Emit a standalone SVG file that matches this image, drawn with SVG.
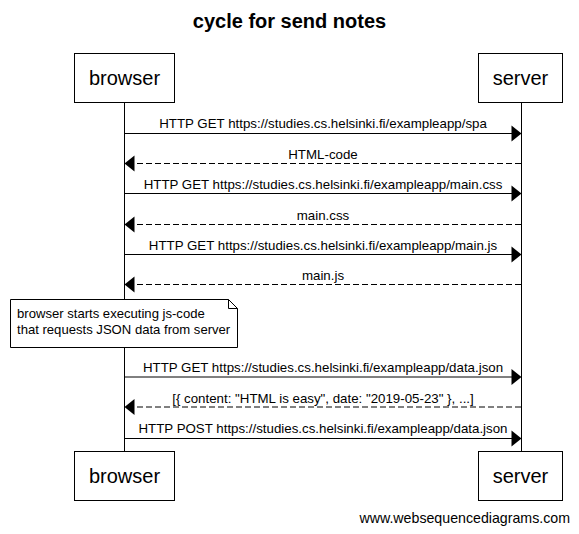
<svg xmlns="http://www.w3.org/2000/svg" width="579" height="534" viewBox="0 0 579 534">
<style>
text{font-family:"Liberation Sans",Arial,sans-serif;fill:#000}
.box{fill:#fff;stroke:#000;stroke-width:1}
.pt{font-size:20px;text-anchor:middle}
.lbl{font-size:13.3px;text-anchor:middle}
.life{stroke:#000;stroke-width:1}
.msg{stroke:#000;stroke-width:1;fill:none}
.dash{stroke-dasharray:6,3}
.head{fill:#000}
</style>
<rect width="579" height="534" fill="#fff"/>
<text x="289.5" y="28" font-size="20" font-weight="bold" text-anchor="middle">cycle for send notes</text>
<g id="lifelines">
<line class="life" x1="124.5" y1="102" x2="124.5" y2="451"/>
<line class="life" x1="521.5" y1="102" x2="521.5" y2="451"/>
</g>
<g id="browser-top"><rect class="box" x="74.5" y="53.5" width="100" height="49"/><text class="pt" x="124.5" y="85">browser</text></g>
<g id="server-top"><rect class="box" x="478.5" y="53.5" width="84" height="49"/><text class="pt" x="520.5" y="85">server</text></g>
<g id="browser-bottom"><rect class="box" x="74.5" y="451.5" width="100" height="49"/><text class="pt" x="124.5" y="483">browser</text></g>
<g id="server-bottom"><rect class="box" x="478.5" y="451.5" width="84" height="49"/><text class="pt" x="520.5" y="483">server</text></g>
<g id="note">
<path class="box" d="M10.5 299.5 H228.5 L237.5 308.5 V347.5 H10.5 Z"/>
<path class="msg" d="M228.5 299.5 V308.5 H237.5"/>
<text x="17" y="318" font-size="13.1">browser starts executing js-code</text>
<text x="17" y="334" font-size="13.1">that requests JSON data from server</text>
</g>
<g id="connectors">
<line class="msg" x1="124.5" y1="133.5" x2="512" y2="133.5"/><path class="head" d="M511.5 125.5 L521.5 133.5 L511.5 141.5 Z"/>
<text class="lbl" x="323" y="128">HTTP GET https://studies.cs.helsinki.fi/exampleapp/spa</text>
<line class="msg dash" x1="521" y1="163.5" x2="134" y2="163.5"/><path class="head" d="M134.5 155.5 L124.5 163.5 L134.5 171.5 Z"/>
<text class="lbl" x="323" y="159">HTML-code</text>
<line class="msg" x1="124.5" y1="193.5" x2="512" y2="193.5"/><path class="head" d="M511.5 185.5 L521.5 193.5 L511.5 201.5 Z"/>
<text class="lbl" x="323" y="188.5">HTTP GET https://studies.cs.helsinki.fi/exampleapp/main.css</text>
<line class="msg dash" x1="521" y1="224.5" x2="134" y2="224.5"/><path class="head" d="M134.5 216.5 L124.5 224.5 L134.5 232.5 Z"/>
<text class="lbl" x="323" y="219.5">main.css</text>
<line class="msg" x1="124.5" y1="254.5" x2="512" y2="254.5"/><path class="head" d="M511.5 246.5 L521.5 254.5 L511.5 262.5 Z"/>
<text class="lbl" x="323" y="249.5">HTTP GET https://studies.cs.helsinki.fi/exampleapp/main.js</text>
<line class="msg dash" x1="521" y1="284.5" x2="134" y2="284.5"/><path class="head" d="M134.5 276.5 L124.5 284.5 L134.5 292.5 Z"/>
<text class="lbl" x="323" y="280">main.js</text>
<line class="msg" x1="124.5" y1="377" x2="512" y2="377"/><path class="head" d="M511.5 369 L521.5 377 L511.5 385 Z"/>
<text class="lbl" x="323" y="372">HTTP GET https://studies.cs.helsinki.fi/exampleapp/data.json</text>
<line class="msg dash" x1="521" y1="407" x2="134" y2="407"/><path class="head" d="M134.5 399 L124.5 407 L134.5 415 Z"/>
<text class="lbl" x="323" y="402.5">[{ content: "HTML is easy", date: "2019-05-23" }, ...]</text>
<line class="msg" x1="124.5" y1="438.5" x2="512" y2="438.5"/><path class="head" d="M511.5 430.5 L521.5 438.5 L511.5 446.5 Z"/>
<text class="lbl" x="323" y="433">HTTP POST https://studies.cs.helsinki.fi/exampleapp/data.json</text>
</g>
<text x="570" y="523" font-size="14.2" text-anchor="end">www.websequencediagrams.com</text>
</svg>
